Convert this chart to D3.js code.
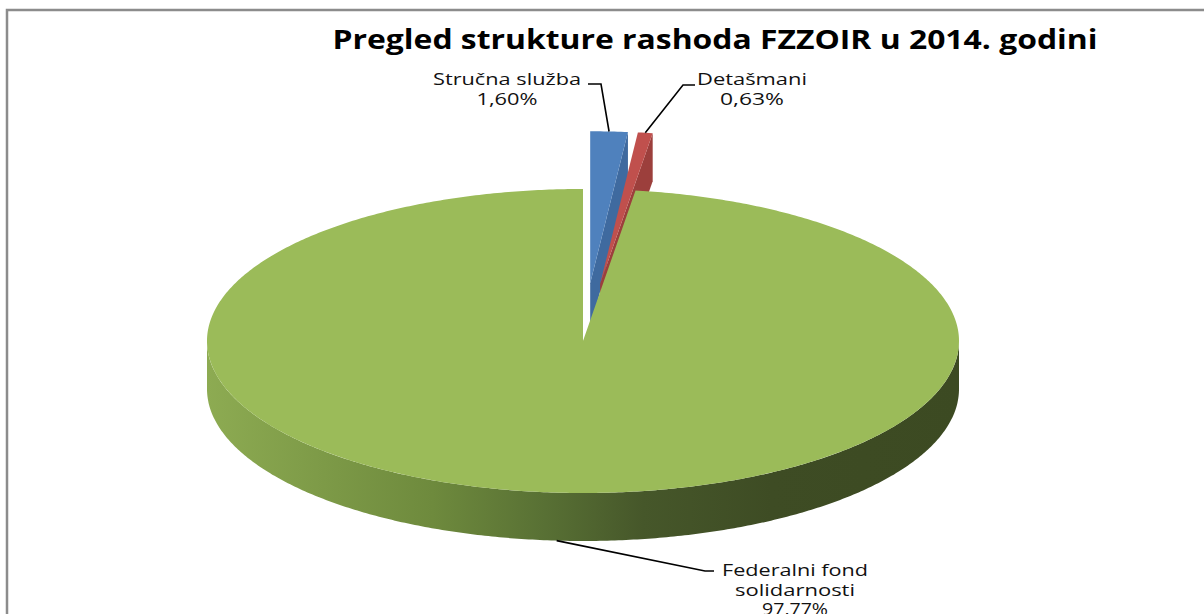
<!DOCTYPE html>
<html>
<head>
<meta charset="utf-8">
<script src="https://cdn.jsdelivr.net/npm/d3@7"></script>
<style>
  html, body { margin: 0; padding: 0; background: #fff; }
  svg { display: block; }
</style>
</head>
<body>
<script>
// data
const categories = ['Stručna služba', 'Detašmani', 'Federalni fond solidarnosti']
const shares = [1.60, 0.63, 97.77]
const pctLabels = ['1,60%', '0,63%', '97,77%']
const topColors = ['#4f81bd', '#c0504d', '#9bbb59']
const sideColors = ['#3f6a9f', '#9c3f3c', 'url(#greenSide)']
const explodes = [0.38, 0.38, 0]

const W = 1204
const H = 614
const cx = 583
const cy = 341
const rx = 376
const ry = 152
const depth = 48

const svg = d3.select('body').append('svg')
  .attr('width', W)
  .attr('height', H)

const defs = svg.append('defs')
const grad = defs.append('linearGradient')
  .attr('id', 'greenSide')
  .attr('gradientUnits', 'userSpaceOnUse')
  .attr('x1', cx - rx).attr('x2', cx + rx)
  .attr('y1', 0).attr('y2', 0)
;[[0, '#8dab52'], [0.3, '#6e8a3d'], [0.45, '#587034'], [0.58, '#46572a'], [0.75, '#3e4c24'], [1, '#3c4a22']]
  .forEach(s => grad.append('stop').attr('offset', s[0]).attr('stop-color', s[1]))

// chart border (only top + left visible in the crop)
svg.append('path')
  .attr('d', `M7,${H + 5}V10H${W + 5}`)
  .attr('fill', 'none')
  .attr('stroke', '#8c8c8c')
  .attr('stroke-width', 2.5)

svg.append('text')
  .attr('x', 715).attr('y', 49)
  .attr('text-anchor', 'middle')
  .attr('font-family', 'Open Sans, sans-serif')
  .attr('font-weight', 'bold')
  .attr('font-size', 26)
  .attr('textLength', 765)
  .attr('lengthAdjust', 'spacingAndGlyphs')
  .attr('fill', '#000')
  .text('Pregled strukture rashoda FZZOIR u 2014. godini')

const pie = d3.pie().sort(null).value(d => d)
const arcs = pie(shares)

const line = d3.line()
function pt (a, ox, oy, dz) {
  return [ox + rx * Math.sin(a), oy - ry * Math.cos(a) + dz]
}
function arcPts (a0, a1, ox, oy, dz) {
  const n = Math.max(2, Math.ceil(Math.abs(a1 - a0) / 0.01))
  return d3.range(n + 1).map(i => pt(a0 + (a1 - a0) * i / n, ox, oy, dz))
}

const g = svg.append('g')
arcs.forEach((d, i) => {
  const s = d.startAngle
  const e = d.endAngle
  const mid = (s + e) / 2
  const ox = cx + explodes[i] * rx * Math.sin(mid)
  const oy = cy - explodes[i] * ry * Math.cos(mid)
  d.ox = ox
  d.oy = oy

  // radial faces
  if (Math.sin(e) > 1e-6) {
    const o = pt(e, ox, oy, 0)
    g.append('path')
      .attr('d', line([[ox, oy], o, [o[0], o[1] + depth], [ox, oy + depth]]) + 'Z')
      .attr('fill', sideColors[i])
  }
  if (Math.sin(s) < -1e-6) {
    const o = pt(s, ox, oy, 0)
    g.append('path')
      .attr('d', line([[ox, oy], o, [o[0], o[1] + depth], [ox, oy + depth]]) + 'Z')
      .attr('fill', sideColors[i])
  }
  // outer side, front half only
  const a0 = Math.max(s, Math.PI / 2)
  const a1 = Math.min(e, 3 * Math.PI / 2)
  if (a1 > a0) {
    const pts = arcPts(a0, a1, ox, oy, 0).concat(arcPts(a1, a0, ox, oy, depth))
    g.append('path')
      .attr('d', line(pts) + 'Z')
      .attr('fill', sideColors[i])
  }
  // top face
  g.append('path')
    .attr('d', line([[ox, oy]].concat(arcPts(s, e, ox, oy, 0))) + 'Z')
    .attr('fill', topColors[i])
})

// labels with leader lines
const labelLayout = [
  { x: 507, y: 85, dy: 20, lines: [categories[0]], lens: [148, 61], leader: [[601, 84], [588, 84]] },
  { x: 752, y: 85, dy: 20, lines: [categories[1]], lens: [110, 64], leader: [[683, 85], [695, 85]] },
  { x: 795, y: 576, dy: 19.5, lines: ['Federalni fond', 'solidarnosti'], lens: [146, 120, 66], leader: [[705, 571], [714, 571]] }
]

arcs.forEach((d, i) => {
  const L = labelLayout[i]
  const mid = (d.startAngle + d.endAngle) / 2
  let anchor = pt(mid, d.ox, d.oy, 0)
  if (Math.cos(mid) < 0) anchor = [anchor[0], anchor[1] + depth]
  svg.append('path')
    .attr('d', line([anchor].concat(L.leader)))
    .attr('fill', 'none')
    .attr('stroke', '#000')
    .attr('stroke-width', 1.6)

  const t = svg.append('text')
    .attr('font-family', 'Open Sans, sans-serif')
    .attr('font-size', 17)
    .attr('fill', '#111')
    .attr('text-anchor', 'middle')
  L.lines.concat([pctLabels[i]]).forEach((s, k) => {
    const ts = t.append('tspan')
      .attr('x', L.x)
      .attr('y', L.y + k * L.dy)
      .text(s)
    if (L.lens[k]) ts.attr('textLength', L.lens[k]).attr('lengthAdjust', 'spacingAndGlyphs')
  })
})
</script>
</body>
</html>
